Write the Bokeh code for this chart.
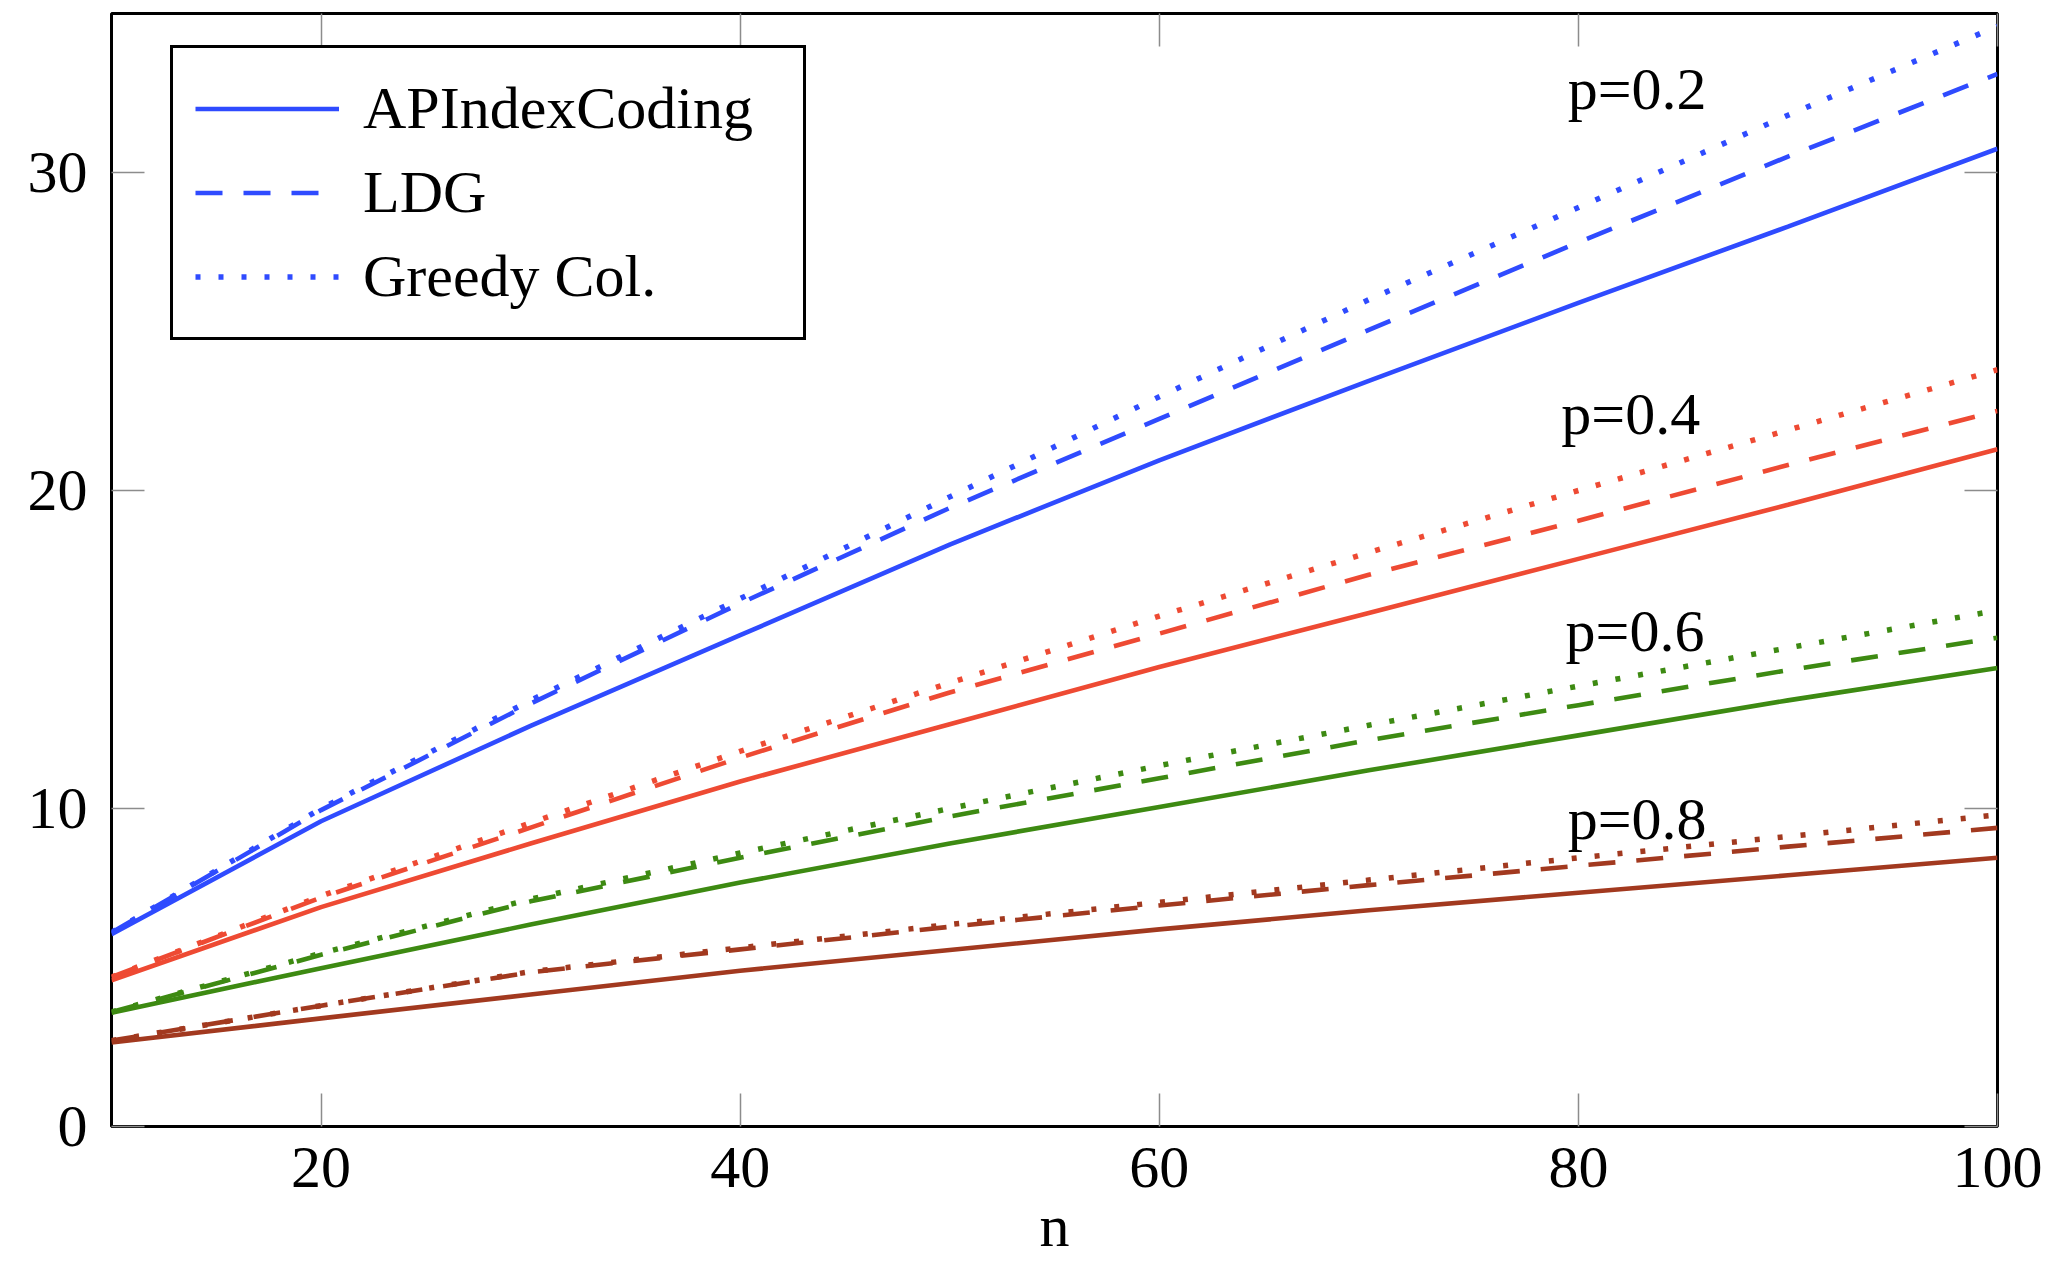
from bokeh.plotting import figure
from bokeh.models import Range1d, FixedTicker, LinearAxis, ColumnDataSource
from bokeh.core.properties import value
from bokeh.embed import file_html
from bokeh.resources import INLINE

# ---- data ----
n = [10, 20, 30, 40, 50, 60, 70, 80, 90, 100]

api_02 = [6.05, 9.6, 12.6, 15.45, 18.3, 20.95, 23.45, 25.9, 28.3, 30.75]
ldg_02 = [6.1, 9.95, 13.3, 16.45, 19.45, 22.25, 25.05, 27.8, 30.5, 33.1]
greedy_02 = [6.1, 10.0, 13.4, 16.6, 19.8, 22.95, 26.0, 28.9, 31.8, 34.6]

api_04 = [4.6, 6.9, 8.9, 10.85, 12.65, 14.45, 16.15, 17.85, 19.55, 21.3]
ldg_04 = [4.7, 7.2, 9.4, 11.6, 13.65, 15.5, 17.35, 19.05, 20.8, 22.5]
greedy_04 = [4.7, 7.25, 9.55, 11.8, 13.95, 16.05, 18.05, 20.0, 21.9, 23.8]

api_06 = [3.58, 4.98, 6.35, 7.67, 8.9, 10.05, 11.2, 12.3, 13.4, 14.42]
ldg_06 = [3.6, 5.4, 7.08, 8.45, 9.75, 10.95, 12.15, 13.25, 14.35, 15.37]
greedy_06 = [3.6, 5.45, 7.15, 8.6, 10.0, 11.35, 12.62, 13.85, 15.05, 16.23]

api_08 = [2.64, 3.4, 4.15, 4.9, 5.55, 6.2, 6.8, 7.35, 7.9, 8.45]
ldg_08 = [2.7, 3.8, 4.85, 5.57, 6.28, 6.95, 7.59, 8.2, 8.8, 9.39]
greedy_08 = [2.7, 3.8, 4.87, 5.62, 6.35, 7.05, 7.75, 8.45, 9.12, 9.8]

p_labels = ["p=0.2", "p=0.4", "p=0.6", "p=0.8"]
p_label_x = [82.8, 82.5, 82.7, 82.8]
p_label_y = [32.62, 22.42, 15.57, 9.68]

x_ticks = [20, 40, 60, 80, 100]
y_ticks = [0, 10, 20, 30]

series_names = ["APIndexCoding", "LDG", "Greedy Col."]
groups = [
    ("#2f4bff", api_02, ldg_02, greedy_02),
    ("#ee4a33", api_04, ldg_04, greedy_04),
    ("#3d8a12", api_06, ldg_06, greedy_06),
    ("#a2391f", api_08, ldg_08, greedy_08),
]

FONT = "Liberation Serif"
FS = "60px"

p = figure(width=2053, height=1262, output_backend="svg", toolbar_location=None,
           x_range=Range1d(10, 100), y_range=Range1d(0, 35),
           min_border_left=111, min_border_right=56, min_border_top=13, min_border_bottom=136,
           x_axis_location=None, y_axis_location=None)
p.grid.visible = False
p.outline_line_color = "black"
p.outline_line_width = 3
p.background_fill_color = "white"
p.border_fill_color = "white"


def make_axis(ticks, show_labels):
    ax = LinearAxis(ticker=FixedTicker(ticks=ticks))
    ax.axis_line_color = None
    ax.major_tick_in = 33
    ax.major_tick_out = 0
    ax.minor_tick_line_color = None
    ax.major_tick_line_color = "#8c8c8c"
    ax.major_tick_line_width = 1.5
    if show_labels:
        ax.major_label_text_font = FONT
        ax.major_label_text_font_size = FS
        ax.major_label_text_color = "black"
    else:
        ax.major_label_overrides = {t: "" for t in ticks}
        ax.major_label_text_font_size = "0px"
        ax.major_label_standoff = 0
    return ax


xb = make_axis(x_ticks, True)
xb.major_label_standoff = 21
xb.axis_label = "n"
xb.axis_label_text_font = FONT
xb.axis_label_text_font_size = FS
xb.axis_label_text_font_style = "normal"
xb.axis_label_text_color = "black"
xb.axis_label_standoff = 3
yl = make_axis(y_ticks, True)
yl.major_label_standoff = 24
p.add_layout(xb, "below")
p.add_layout(yl, "left")
p.add_layout(make_axis(x_ticks, False), "above")
p.add_layout(make_axis(y_ticks, False), "right")

dashes = ["solid", "27 21", "5 18"]
widths = [4.6, 4.6, 5.5]
for gi, (color, api, ldg, greedy) in enumerate(groups):
    for si, ys in enumerate([api, ldg, greedy]):
        kw = {}
        if gi == 0:
            kw["legend_label"] = series_names[si]
        p.line(n, ys, line_color=color, line_width=widths[si], line_dash=dashes[si], **kw)

src = ColumnDataSource(dict(x=p_label_x, y=p_label_y, t=p_labels))
p.text(x="x", y="y", text="t", source=src, text_font=value(FONT), text_font_size=FS,
       text_color="black", text_align="center", text_baseline="middle")

lg = p.legend[0]
lg.location = (59, 786)
lg.border_line_color = "black"
lg.border_line_width = 3
lg.border_line_alpha = 1
lg.background_fill_color = "white"
lg.background_fill_alpha = 1
lg.label_text_font = FONT
lg.label_text_font_size = FS
lg.label_text_color = "black"
lg.glyph_width = 144
lg.glyph_height = 77
lg.label_height = 77
lg.label_width = 418
lg.label_standoff = 24
lg.padding = 22
lg.spacing = 7
lg.margin = 0

open("out.html", "w").write(file_html(p, INLINE))
